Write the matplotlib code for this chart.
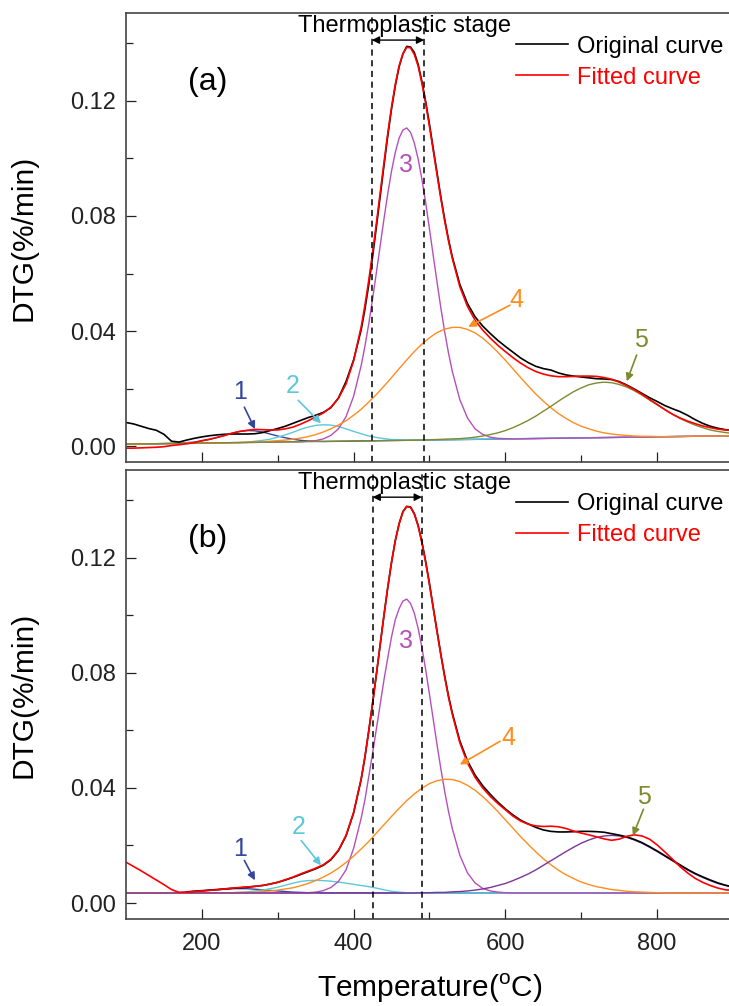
"""DTG curves with peak deconvolution: original curve, fitted curve and
five fitted components for two samples, thermoplastic stage marked."""

import matplotlib

matplotlib.use("Agg")
import matplotlib.pyplot as plt

plt.rcParams["font.family"] = ["Liberation Sans", "DejaVu Sans"]
plt.rcParams["mathtext.fontset"] = "custom"
plt.rcParams["mathtext.rm"] = "Liberation Sans"

# temperature grid (degC): 10 degC steps, 5 degC steps around the main peak
TEMP = list(range(100, 410, 10)) + list(range(410, 530, 5)) + list(range(530, 901, 10))

# ---------------- sample (a) ----------------
RED_A = [
    -0.0006, -0.0006, -0.0005, -0.0004, -0.0003, -0.0001, 0.0003, 0.0006, 0.0009, 0.0013,
    0.0020, 0.0025, 0.0031, 0.0038, 0.0046, 0.0052, 0.0056, 0.0059, 0.0058, 0.0057,
    0.0057, 0.0061, 0.0067, 0.0077, 0.0089, 0.0102, 0.0116, 0.0136, 0.0167, 0.0217,
    0.0297,
    # 410-525
    0.0415, 0.0491, 0.0577, 0.0672, 0.0774, 0.0879, 0.0984, 0.1086, 0.1178, 0.1257,
    0.1321, 0.1363, 0.1385, 0.1383, 0.1360, 0.1320, 0.1260, 0.1190, 0.1110, 0.1026,
    0.0942, 0.0860, 0.0783, 0.0714,
    # 530-900
    0.0653, 0.0554, 0.0486, 0.0438, 0.0404, 0.0376, 0.0351,
    0.0329, 0.0308, 0.0289, 0.0273, 0.0260, 0.0251, 0.0245, 0.0242, 0.0242, 0.0243,
    0.0244, 0.0244, 0.0243, 0.0239, 0.0233, 0.0223, 0.0211, 0.0197, 0.0181, 0.0163,
    0.0146, 0.0128, 0.0112, 0.0099, 0.0088, 0.0079, 0.0071, 0.0065, 0.0060, 0.0057,
    0.0055,
]
BLACK_A = [
    0.0083, 0.0078, 0.0070, 0.0062, 0.0056, 0.0042, 0.0018, 0.0015, 0.0022, 0.0028,
    0.0033, 0.0037, 0.0040, 0.0042, 0.0043, 0.0043, 0.0043, 0.0044, 0.0048, 0.0055,
    0.0062, 0.0070, 0.0080, 0.0090, 0.0100, 0.0108, 0.0118, 0.0134, 0.0168, 0.0225,
    0.0300,
    # 410-525
    0.0405, 0.0478, 0.0562, 0.0658, 0.0762, 0.0868, 0.0975, 0.1078, 0.1172, 0.1252,
    0.1318, 0.1362, 0.1388, 0.1386, 0.1367, 0.1326, 0.1266, 0.1196, 0.1117, 0.1032,
    0.0948, 0.0865, 0.0788, 0.0719,
    # 530-900
    0.0658, 0.0562, 0.0496, 0.0450, 0.0418, 0.0392, 0.0368,
    0.0347, 0.0327, 0.0307, 0.0291, 0.0278, 0.0270, 0.0265, 0.0255, 0.0248, 0.0244,
    0.0241, 0.0238, 0.0235, 0.0234, 0.0232, 0.0225, 0.0213, 0.0199, 0.0184, 0.0169,
    0.0156, 0.0142, 0.0131, 0.0121, 0.0108, 0.0093, 0.0080, 0.0070, 0.0063, 0.0058,
    0.0055,
]

C1_A_T = [100] + list(range(160, 361, 10)) + [900]
C1_A = [0.0008, 0.0010, 0.0011, 0.0013, 0.0015, 0.0019, 0.0024, 0.0031, 0.0038, 0.0046,
        0.0052, 0.0055, 0.0054, 0.0050, 0.0043, 0.0036, 0.0030, 0.0025, 0.0021, 0.0019,
        0.0018, 0.0017, 0.0037]

C2_A_T = [100] + list(range(260, 481, 10)) + [900]
C2_A = [0.0008, 0.0014, 0.0018, 0.0021, 0.0025, 0.0032, 0.0040, 0.0049, 0.0059, 0.0067,
        0.0073, 0.0075, 0.0074, 0.0069, 0.0061, 0.0052, 0.0044, 0.0036, 0.0031, 0.0027,
        0.0024, 0.0023, 0.0022, 0.0022, 0.0037]

C3_A_T = ([100] + list(range(330, 410, 10)) + list(range(410, 530, 5))
          + list(range(530, 611, 10)) + [900])
C3_A = [0.0008, 0.0016, 0.0018, 0.0020, 0.0026, 0.0038, 0.0061, 0.0103, 0.0174,
        0.0281, 0.0349, 0.0426, 0.0512, 0.0603, 0.0696, 0.0789, 0.0877, 0.0956, 0.1021,
        0.1070, 0.1098, 0.1105, 0.1090, 0.1053, 0.0998, 0.0927, 0.0845, 0.0754, 0.0661,
        0.0569, 0.0480, 0.0398, 0.0325,
        0.0261, 0.0162, 0.0099, 0.0061, 0.0042, 0.0032, 0.0028, 0.0027, 0.0026, 0.0037]

C4_A_T = [100] + list(range(250, 811, 10)) + [900]
C4_A = [0.0008, 0.0013, 0.0015, 0.0015, 0.0016, 0.0018, 0.0020, 0.0022, 0.0025, 0.0029,
        0.0034, 0.0041, 0.0050, 0.0061, 0.0074, 0.0089, 0.0108, 0.0129, 0.0154, 0.0180,
        0.0209, 0.0239, 0.0270, 0.0300, 0.0329, 0.0355, 0.0377, 0.0395, 0.0407, 0.0413,
        0.0413, 0.0406, 0.0394, 0.0376, 0.0353, 0.0327, 0.0299, 0.0269, 0.0239, 0.0210,
        0.0182, 0.0157, 0.0134, 0.0114, 0.0097, 0.0082, 0.0070, 0.0061, 0.0053, 0.0047,
        0.0043, 0.0040, 0.0038, 0.0036, 0.0035, 0.0035, 0.0034, 0.0034, 0.0037]

C5_A_T = [100] + list(range(490, 901, 10))
C5_A = [0.0008, 0.0022, 0.0023, 0.0024, 0.0025, 0.0026, 0.0027, 0.0029, 0.0032, 0.0036,
        0.0041, 0.0047, 0.0055, 0.0065, 0.0077, 0.0090, 0.0105, 0.0122, 0.0139, 0.0157,
        0.0174, 0.0190, 0.0203, 0.0214, 0.0220, 0.0223, 0.0221, 0.0215, 0.0206, 0.0193,
        0.0178, 0.0161, 0.0144, 0.0128, 0.0112, 0.0097, 0.0085, 0.0074, 0.0065, 0.0057,
        0.0052, 0.0048, 0.0045]

# ---------------- sample (b) ----------------
RED_B = [
    0.0142, 0.0127, 0.0112, 0.0096, 0.0080, 0.0064, 0.0047, 0.0037, 0.0038, 0.0040,
    0.0042, 0.0044, 0.0046, 0.0049, 0.0052, 0.0054, 0.0056, 0.0058, 0.0061, 0.0066,
    0.0072, 0.0081, 0.0090, 0.0101, 0.0111, 0.0121, 0.0133, 0.0152, 0.0184, 0.0235,
    0.0315,
    # 410-525
    0.0432, 0.0510, 0.0600, 0.0695, 0.0795, 0.0898, 0.1000, 0.1097, 0.1185, 0.1260,
    0.1318, 0.1359, 0.1377, 0.1375, 0.1351, 0.1310, 0.1252, 0.1183, 0.1106, 0.1023,
    0.0941, 0.0861, 0.0785, 0.0716,
    # 530-900
    0.0656, 0.0557, 0.0487, 0.0437, 0.0400, 0.0371, 0.0346,
    0.0324, 0.0302, 0.0285, 0.0274, 0.0268, 0.0266, 0.0267, 0.0265, 0.0259, 0.0250,
    0.0243, 0.0237, 0.0230, 0.0223, 0.0218, 0.0222, 0.0232, 0.0237, 0.0233, 0.0222,
    0.0202, 0.0178, 0.0153, 0.0127, 0.0105, 0.0086, 0.0072, 0.0061, 0.0052, 0.0046,
    0.0044,
]
BLACK_B_T = list(range(180, 410, 10)) + list(range(410, 530, 5)) + list(range(530, 901, 10))
BLACK_B = [
    0.0039, 0.0041, 0.0043, 0.0045, 0.0047, 0.0049, 0.0051, 0.0053, 0.0055, 0.0058,
    0.0061, 0.0066, 0.0072, 0.0080, 0.0089, 0.0099, 0.0109, 0.0119, 0.0131, 0.0150,
    0.0182, 0.0233, 0.0313,
    # 410-525
    0.0430, 0.0508, 0.0598, 0.0693, 0.0794, 0.0897, 0.0999, 0.1096, 0.1184, 0.1260,
    0.1318, 0.1360, 0.1378, 0.1376, 0.1353, 0.1312, 0.1255, 0.1186, 0.1109, 0.1026,
    0.0944, 0.0864, 0.0789, 0.0720,
    # 530-900
    0.0661, 0.0563, 0.0494, 0.0445, 0.0408,
    0.0378, 0.0351, 0.0327, 0.0306, 0.0288, 0.0275, 0.0263, 0.0254, 0.0249, 0.0247,
    0.0247, 0.0248, 0.0249, 0.0249, 0.0248, 0.0246, 0.0241, 0.0236, 0.0230, 0.0221,
    0.0210, 0.0196, 0.0181, 0.0165, 0.0149, 0.0133, 0.0117, 0.0103, 0.0091, 0.0080,
    0.0070, 0.0062, 0.0056,
]

C1_B_T = [100] + list(range(140, 361, 10)) + [900]
C1_B = [0.0035, 0.0035, 0.0036, 0.0036, 0.0037, 0.0038, 0.0040, 0.0042, 0.0044, 0.0046,
        0.0048, 0.0050, 0.0050, 0.0050, 0.0048, 0.0046, 0.0044, 0.0042, 0.0040, 0.0038,
        0.0037, 0.0036, 0.0036, 0.0035, 0.0035]

C2_B_T = [100] + list(range(230, 481, 10)) + [900]
C2_B = [0.0035, 0.0035, 0.0036, 0.0037, 0.0039, 0.0042, 0.0045, 0.0050, 0.0055, 0.0062,
        0.0069, 0.0075, 0.0078, 0.0079, 0.0078, 0.0076, 0.0073, 0.0069, 0.0065, 0.0061,
        0.0057, 0.0052, 0.0046, 0.0041, 0.0038, 0.0036, 0.0035, 0.0035]

C3_B_T = ([100] + list(range(330, 410, 10)) + list(range(410, 530, 5))
          + list(range(530, 611, 10)) + [900])
C3_B = [0.0035, 0.0035, 0.0036, 0.0038, 0.0043, 0.0054, 0.0075, 0.0115, 0.0190,
        0.0295, 0.0360, 0.0440, 0.0520, 0.0605, 0.0690, 0.0775, 0.0852, 0.0925, 0.0985,
        0.1023, 0.1049, 0.1056, 0.1041, 0.1007, 0.0955, 0.0888, 0.0810, 0.0725, 0.0637,
        0.0549, 0.0466, 0.0388, 0.0319,
        0.0259, 0.0166, 0.0105, 0.0070, 0.0051, 0.0042, 0.0038, 0.0036, 0.0035, 0.0035]

C4_B_T = [100] + list(range(220, 811, 10)) + [900]
C4_B = [0.0035, 0.0035, 0.0036, 0.0036, 0.0037, 0.0037, 0.0038, 0.0040, 0.0042, 0.0045,
        0.0049, 0.0053, 0.0060, 0.0068, 0.0078, 0.0090, 0.0104, 0.0121, 0.0141, 0.0163,
        0.0188, 0.0214, 0.0243, 0.0272, 0.0301, 0.0329, 0.0356, 0.0379, 0.0399, 0.0415,
        0.0425, 0.0430, 0.0429, 0.0422, 0.0409, 0.0392, 0.0370, 0.0345, 0.0318, 0.0289,
        0.0260, 0.0231, 0.0204, 0.0178, 0.0154, 0.0133, 0.0114, 0.0098, 0.0085, 0.0073,
        0.0064, 0.0057, 0.0052, 0.0047, 0.0044, 0.0041, 0.0039, 0.0038, 0.0037, 0.0036,
        0.0035, 0.0035]

C5_B_T = [100] + list(range(480, 901, 10))
C5_B = [0.0035, 0.0035, 0.0036, 0.0036, 0.0037, 0.0037, 0.0039, 0.0040, 0.0042, 0.0045,
        0.0049, 0.0054, 0.0061, 0.0068, 0.0078, 0.0089, 0.0101, 0.0115, 0.0131, 0.0147,
        0.0163, 0.0179, 0.0194, 0.0208, 0.0219, 0.0228, 0.0233, 0.0235, 0.0233, 0.0228,
        0.0219, 0.0208, 0.0194, 0.0179, 0.0163, 0.0147, 0.0131, 0.0115, 0.0101, 0.0089,
        0.0078, 0.0068, 0.0061, 0.0054]

# thermoplastic stage limits (degC) and peak labels
STAGE_A = (424, 493)
STAGE_B = (425, 490)
PEAK_LABELS = ["1", "2", "3", "4", "5"]

BLUE = "#34469f"
CYAN = "#5cc8d9"
MAGENTA = "#b450ba"
ORANGE = "#ff8c1f"
OLIVE = "#7d8a2e"
PURPLE = "#7a3599"

XLIM = (100, 900)
YLIM = (-0.0055, 0.1503)


def style_axes(ax, show_xlabels):
    ax.set_xlim(*XLIM)
    ax.set_ylim(*YLIM)
    ax.set_xticks([200, 400, 600, 800])
    ax.set_xticks([300, 500, 700], minor=True)
    ax.set_yticks([0.0, 0.04, 0.08, 0.12])
    ax.set_yticks([0.02, 0.06, 0.10, 0.14], minor=True)
    ax.set_yticklabels(["0.00", "0.04", "0.08", "0.12"])
    ax.tick_params(which="both", direction="in", top=False, right=False,
                   width=0.9, colors="#222222", labelsize=17)
    ax.tick_params(which="major", length=7.5, pad=7)
    ax.tick_params(which="minor", length=5)
    ax.tick_params(axis="x", pad=10, labelbottom=show_xlabels)
    for sp in ax.spines.values():
        sp.set_linewidth(1.2)
        sp.set_color("#444444")
    ax.set_ylabel("DTG(%/min)", fontsize=21.5)
    ax.yaxis.set_label_coords(-0.145, 0.5)


def draw_panel(ax, red, black_t, black, comps, comp_colors, stage, arrows, tag):
    for (t, y), c in zip(comps, comp_colors):
        ax.plot(t, y, color=c, lw=1.0)
    ax.plot(black_t, black, color="black", lw=1.2, label="Original curve")
    ax.plot(TEMP, red, color="#ff0000", lw=1.2, label="Fitted curve")

    for x in stage:
        ax.axvline(x, color="black", ls=(0, (4, 3)), lw=1.1)
    ax.annotate("", xy=(stage[0], 0.1410), xytext=(stage[1], 0.1410),
                arrowprops=dict(arrowstyle="<|-|>", color="black", lw=1.0,
                                mutation_scale=11, shrinkA=0, shrinkB=0))
    ax.text(467, 0.1458, "Thermoplastic stage", fontsize=17,
            ha="center", va="center")

    ax.text(0.135, 0.847, tag, transform=ax.transAxes, fontsize=23,
            ha="center", va="center")

    # numbered peak labels with pointer arrows
    for label, color, (txt_xy, start, tip) in zip(PEAK_LABELS, comp_colors, arrows):
        if label == "5":
            color = OLIVE
        ax.text(*txt_xy, label, color=color, fontsize=18, ha="center", va="center")
        if start is not None:
            ax.annotate("", xy=tip, xytext=start,
                        arrowprops=dict(arrowstyle="-|>", color=color, lw=1.2,
                                        mutation_scale=11, shrinkA=0, shrinkB=0))

    leg = ax.legend(loc="upper left", bbox_to_anchor=(0.6425, 0.95), frameon=False,
                    fontsize=17, handlelength=2.2, handletextpad=0.4,
                    labelspacing=0.38, borderpad=0, borderaxespad=0,
                    labelcolor="linecolor")
    for line in leg.get_lines():
        line.set_linewidth(1.2)


def main():
    fig = plt.figure(figsize=(7.29, 10.06), dpi=100)
    ax_a = fig.add_axes([0.1728, 0.5405, 0.8327, 0.4463])
    ax_b = fig.add_axes([0.1728, 0.0866, 0.8327, 0.4458])

    arrows_a = [
        ((250, 0.0188), (256, 0.0136), (270, 0.0060)),
        ((320, 0.0211), (327, 0.0160), (357, 0.0080)),
        ((469, 0.0976), None, None),
        ((615, 0.0508), (606, 0.0490), (551, 0.0415)),
        ((779, 0.0369), (773, 0.0317), (760, 0.0226)),
    ]
    arrows_b = [
        ((250, 0.0188), (256, 0.0148), (270, 0.0079)),
        ((327, 0.0263), (331, 0.0217), (357, 0.0131)),
        ((469, 0.0912), None, None),
        ((604, 0.0573), (593, 0.0562), (540, 0.0481)),
        ((782, 0.0367), (782, 0.0326), (768, 0.0234)),
    ]

    comps_a = [(C1_A_T, C1_A), (C2_A_T, C2_A), (C3_A_T, C3_A), (C4_A_T, C4_A), (C5_A_T, C5_A)]
    comps_b = [(C1_B_T, C1_B), (C2_B_T, C2_B), (C3_B_T, C3_B), (C4_B_T, C4_B), (C5_B_T, C5_B)]

    draw_panel(ax_a, RED_A, TEMP, BLACK_A, comps_a,
               [BLUE, CYAN, MAGENTA, ORANGE, OLIVE], STAGE_A, arrows_a, "(a)")
    draw_panel(ax_b, RED_B, BLACK_B_T, BLACK_B, comps_b,
               [BLUE, CYAN, MAGENTA, ORANGE, PURPLE], STAGE_B, arrows_b, "(b)")

    style_axes(ax_a, show_xlabels=False)
    style_axes(ax_b, show_xlabels=True)
    ax_b.set_xlabel(r"Temperature($^{\mathrm{o}}$C)", fontsize=21.5, labelpad=12)

    fig.savefig("out.png", dpi=100)


if __name__ == "__main__":
    main()
